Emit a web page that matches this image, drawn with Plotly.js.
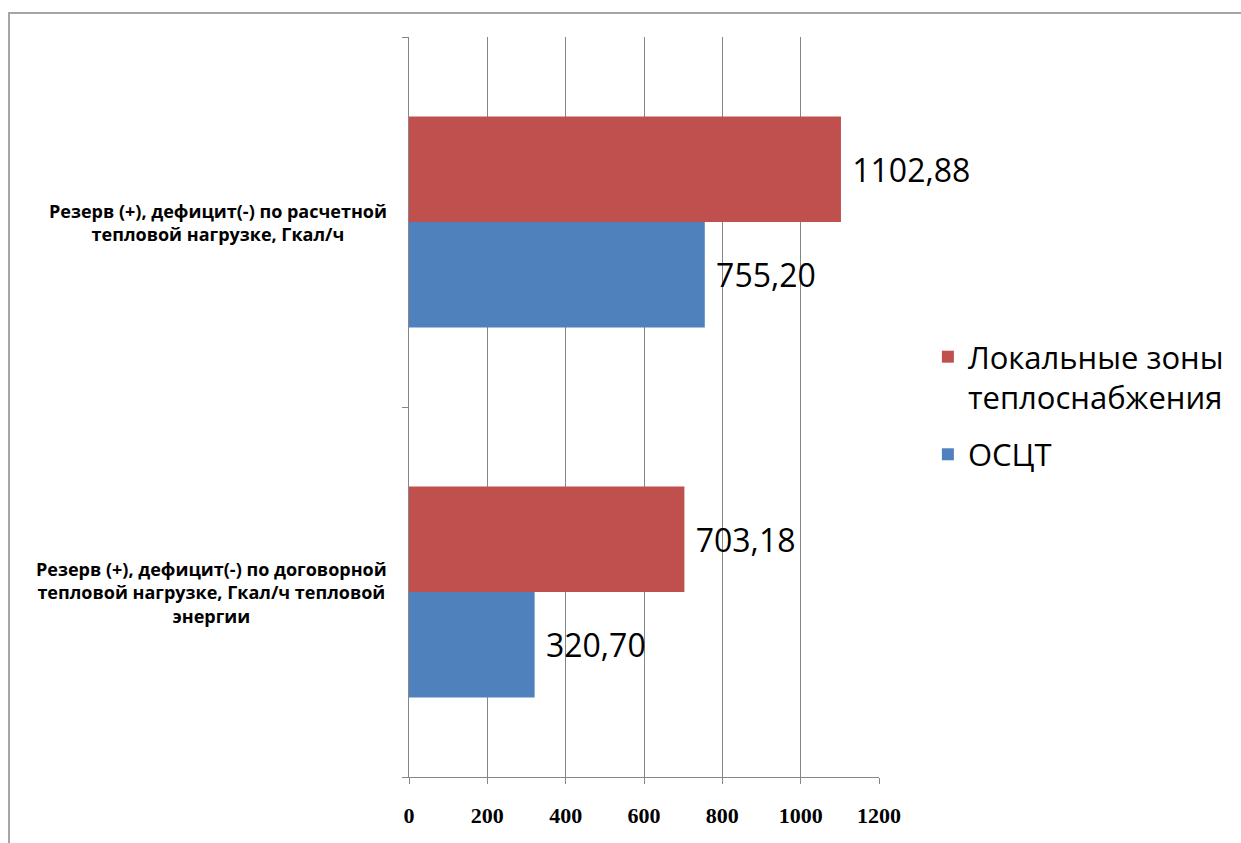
<!DOCTYPE html>
<html>
<head>
<meta charset="utf-8">
<script src="https://cdn.plot.ly/plotly-3.0.1.min.js"></script>
<style>
  html, body { margin: 0; padding: 0; background: #ffffff; }
  #chart { position: absolute; left: 0; top: 0; width: 1241px; height: 843px; }
  #frame { position: absolute; left: 8px; top: 12px; width: 1241px; height: 843px;
           border-top: 2px solid #a6a6a6; border-left: 2px solid #a6a6a6; pointer-events: none; }
</style>
</head>
<body>
<div id="chart"></div>
<div id="frame"></div>
<script>
// Categories, listed bottom to top
const categories = [
  'Резерв (+), дефицит(-) по договорной<br>тепловой нагрузке, Гкал/ч тепловой<br>энергии',
  'Резерв (+), дефицит(-) по расчетной<br>тепловой нагрузке, Гкал/ч'
];
const seriesNames = ['ОСЦТ', 'Локальные зоны<br>теплоснабжения'];
const osctValues = [320.70, 755.20];
const localValues = [703.18, 1102.88];
const xTicks = [0, 200, 400, 600, 800, 1000, 1200];

const labelFont = { family: 'Open Sans, sans-serif', size: 32, color: '#000000' };

function barTrace(name, values, color, group, rank) {
  return {
    type: 'bar',
    orientation: 'h',
    name: name,
    legendgroup: group,
    legendrank: rank,
    x: values,
    y: [0, 1],
    marker: { color: color, line: { width: 0 } },
    text: values,
    // a non-breaking space keeps the value a little away from the bar end
    texttemplate: '\u00a0%{x:.2f}',
    textposition: 'outside',
    textfont: labelFont,
    constraintext: 'none',
    cliponaxis: false,
    hoverinfo: 'skip'
  };
}

const data = [
  barTrace(seriesNames[0], osctValues, '#4f81bd', 'osct', 2),
  barTrace(seriesNames[1], localValues, '#c0504d', 'local', 1)
];

const annotations = categories.map((c, i) => ({
  xref: 'paper', yref: 'y',
  x: 0, y: i,
  xshift: -20,
  xanchor: 'right', yanchor: 'middle',
  align: 'center',
  text: c,
  showarrow: false,
  font: { family: 'Open Sans, sans-serif', size: 18, weight: 'bold', color: '#000000' }
}));

const layout = {
  width: 1241,
  height: 843,
  margin: { l: 409, r: 360, t: 37, b: 66, pad: 0 },
  paper_bgcolor: '#ffffff',
  plot_bgcolor: '#ffffff',
  separators: ', ',
  barmode: 'group',
  bargap: 0.43,
  bargroupgap: 0,
  showlegend: true,
  legend: {
    x: 1.104, y: 0.604, xanchor: 'left', yanchor: 'top',
    traceorder: 'grouped',
    valign: 'top',
    font: { family: 'Open Sans, sans-serif', size: 31, color: '#000000' },
    itemclick: false, itemdoubleclick: false,
    tracegroupgap: 14
  },
  xaxis: {
    range: [0, 1200],
    tickvals: xTicks,
    ticktext: xTicks.map(String),
    showgrid: true,
    gridcolor: '#868686',
    gridwidth: 1,
    zeroline: false,
    showline: true,
    linecolor: '#868686',
    linewidth: 1,
    ticks: 'outside',
    ticklen: 6,
    tickcolor: '#868686',
    ticklabelstandoff: 13,
    tickfont: { family: 'Liberation Serif, serif', size: 22, weight: 'bold', color: '#000000' },
    fixedrange: true
  },
  yaxis: {
    type: 'linear',
    range: [-0.5, 1.5],
    tickvals: [-0.5, 0.5, 1.5],
    showticklabels: false,
    showgrid: false,
    zeroline: false,
    showline: true,
    linecolor: '#868686',
    linewidth: 1,
    ticks: 'outside',
    ticklen: 6,
    tickcolor: '#868686',
    fixedrange: true
  },
  annotations: annotations
};

Plotly.newPlot('chart', data, layout, { displayModeBar: false, staticPlot: true });
</script>
</body>
</html>
